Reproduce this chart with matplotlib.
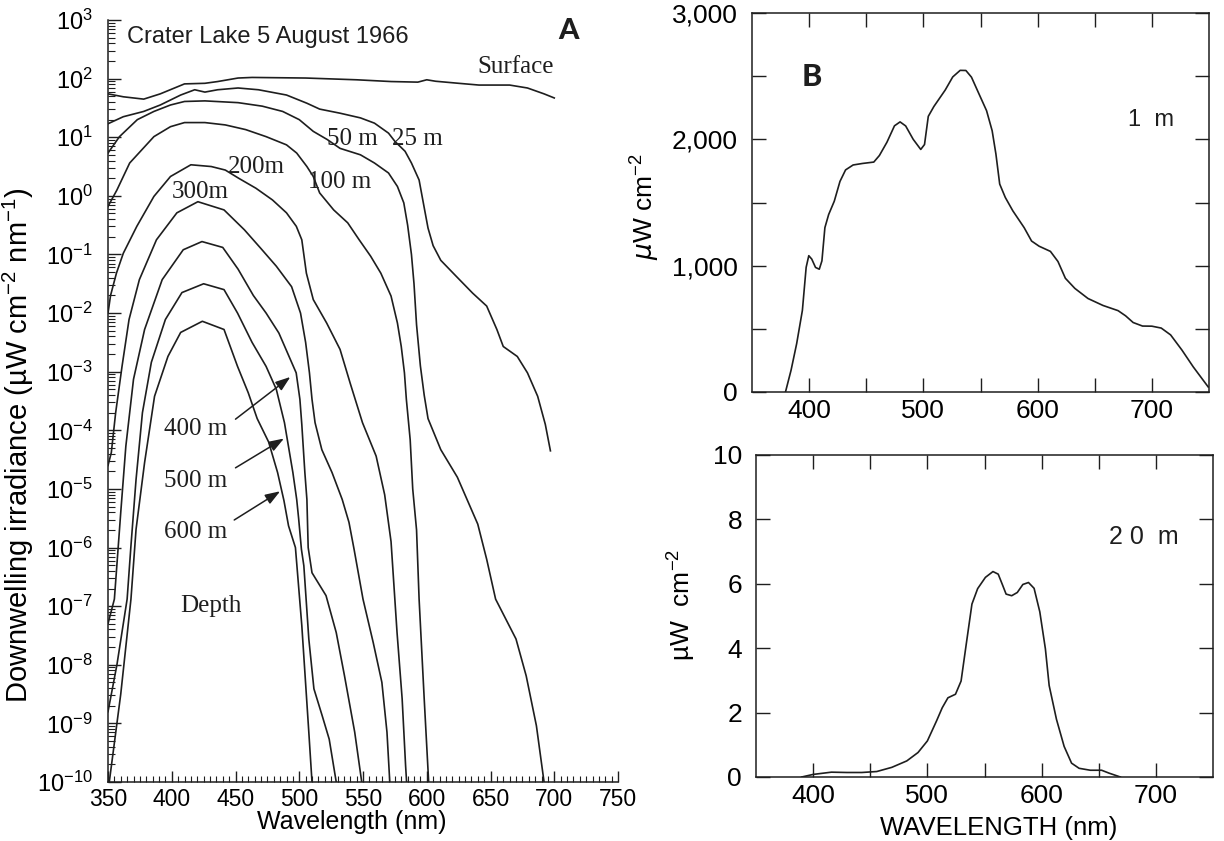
import matplotlib
matplotlib.use("Agg")
import matplotlib.pyplot as plt
import numpy as np
from matplotlib.ticker import FixedLocator, LogLocator, MultipleLocator, NullFormatter

plt.rcParams["font.family"] = ["Liberation Sans", "DejaVu Sans"]
plt.rcParams["mathtext.default"] = "regular"

INK = "#1e1e1e"

# ── Panel A: downwelling irradiance, Crater Lake (log10 µW cm-2 nm-1) ────────
surface_nm = [350, 362, 378, 391, 410, 426, 436, 452, 463, 505, 545, 572, 593,
              600, 607, 625, 641, 665, 679, 692, 700]
surface_log = [1.74, 1.69, 1.65, 1.74, 1.91, 1.92, 1.95, 2.01, 2.02, 2.01, 1.98,
               1.95, 1.94, 1.98, 1.955, 1.92, 1.89, 1.89, 1.84, 1.74, 1.67]

d25_nm = [350, 362, 378, 391, 407, 418, 426, 436, 452, 468, 490, 506, 516, 532,
          548, 559, 570, 575, 583, 588, 594, 598, 601, 605, 611, 623, 636, 647,
          655, 660, 671, 679, 687, 693, 697]
d25_log = [1.23, 1.35, 1.44, 1.55, 1.72, 1.81, 1.77, 1.81, 1.84, 1.81, 1.72, 1.58,
           1.48, 1.41, 1.33, 1.24, 1.07, 0.93, 0.76, 0.56, 0.27, -0.2, -0.55,
           -0.85, -1.1, -1.37, -1.66, -1.88, -2.28, -2.57, -2.74, -3.02, -3.42,
           -3.9, -4.35]

d50_nm = [350, 359, 373, 386, 399, 410, 426, 452, 471, 487, 500, 511, 522, 532,
          548, 559, 570, 577, 582, 585, 588, 590, 592, 595, 598, 601, 611, 624,
          632, 640, 647, 654, 670, 678, 686, 692]
d50_log = [0.73, 1.01, 1.30, 1.44, 1.55, 1.61, 1.62, 1.59, 1.53, 1.44, 1.30, 1.10,
           0.96, 0.81, 0.70, 0.56, 0.39, 0.16, -0.12, -0.5, -1.0, -1.5, -2.2,
           -2.9, -3.4, -3.8, -4.33, -4.8, -5.2, -5.6, -6.2, -6.88, -7.56, -8.19,
           -9.04, -10.0]

d100_nm = [350, 357, 367, 386, 399, 410, 426, 442, 458, 474, 490, 498, 506, 511,
           516, 527, 538, 547, 556, 564, 572, 577, 580, 582.5, 584, 587, 589,
           592, 594, 598, 601.5]
d100_log = [-0.18, 0.10, 0.56, 1.01, 1.18, 1.25, 1.25, 1.21, 1.13, 1.01, 0.87,
            0.73, 0.50, 0.33, 0.05, -0.24, -0.46, -0.75, -1.03, -1.32, -1.71,
            -2.17, -2.57, -3.02, -3.47, -4.16, -5.0, -5.7, -6.88, -8.58, -10.0]

d200_nm = [350, 352, 356.6, 362, 372.6, 386, 399, 415, 431, 442, 452.5, 466, 479,
           490, 497.7, 502, 505.6, 511, 521.5, 532, 540, 549.6, 560.3, 567, 572,
           576.7, 580.7, 583.4, 584.2]
d200_log = [-2.0, -1.7, -1.32, -0.98, -0.52, -0.01, 0.33, 0.53, 0.50, 0.44, 0.30,
            0.13, -0.07, -0.29, -0.52, -0.75, -1.32, -1.77, -2.17, -2.62, -3.2,
            -3.87, -4.44, -5.1, -5.9, -7.45, -8.58, -9.72, -10.0]

d300_nm = [350, 352.6, 356, 361, 366.5, 374.6, 388, 404, 420.5, 441, 457, 470,
           482, 494, 501, 505, 508, 510, 512.4, 517.7, 525.7, 533.7, 539, 543,
           550, 558, 564.8, 568.8, 571]
d300_log = [-4.6, -4.38, -3.7, -2.91, -2.11, -1.43, -0.75, -0.29, -0.1, -0.24,
            -0.58, -0.9, -1.2, -1.55, -2.0, -2.5, -3.02, -3.47, -3.87, -4.33,
            -4.72, -5.18, -5.57, -6.03, -6.88, -7.62, -8.3, -9.15, -10.0]

d400_nm = [350, 355, 360, 364, 370, 378.7, 392.5, 409, 423.7, 440, 452, 464, 474,
           484, 492, 497.6, 500.5, 502, 504.4, 506, 507, 510, 521, 529, 535.5,
           543.5, 549]
d400_log = [-7.3, -6.88, -5.4, -4.27, -3.13, -2.28, -1.43, -0.92, -0.78, -0.88,
            -1.25, -1.7, -2.0, -2.34, -2.74, -3.02, -3.47, -3.9, -4.72, -5.18,
            -6.0, -6.43, -6.82, -7.45, -8.19, -9.15, -10.0]

d500_nm = [350, 357, 365, 368, 372, 377, 384, 395, 408, 425, 441, 451.6, 463, 474,
           482, 488.4, 495, 498, 499.5, 501.7, 503.6, 507.5, 511.5, 518, 523.5,
           529]
d500_log = [-8.8, -8.0, -6.88, -5.97, -4.84, -3.7, -2.84, -2.11, -1.65, -1.5,
            -1.6, -2.0, -2.5, -2.91, -3.3, -3.87, -4.72, -5.18, -5.5, -6.03,
            -6.31, -7.56, -8.41, -8.87, -9.27, -10.0]

d600_nm = [351, 360, 368, 372, 378.7, 386.5, 397, 407, 424, 441, 451.6, 460, 467,
           476, 483, 488, 491.6, 497, 502, 507.5, 510]
d600_log = [-10.0, -8.5, -6.88, -5.69, -4.55, -3.42, -2.74, -2.33, -2.14, -2.28,
            -2.91, -3.36, -3.8, -4.2, -4.72, -5.2, -5.63, -6.0, -7.33, -9.15,
            -10.0]

profiles_a = [
    (surface_nm, surface_log), (d25_nm, d25_log), (d50_nm, d50_log),
    (d100_nm, d100_log), (d200_nm, d200_log), (d300_nm, d300_log),
    (d400_nm, d400_log), (d500_nm, d500_log), (d600_nm, d600_log),
]

# curve labels: (text, wavelength, log10 irradiance)
depth_labels = [
    ("Surface", 670, 2.2), ("50 m", 542, 0.97), ("25 m", 593, 0.97),
    ("200m", 466, 0.5), ("100 m", 532, 0.24), ("300m", 422, 0.07),
    ("400 m", 419, -3.98), ("500 m", 419, -4.87), ("600 m", 419, -5.74),
    ("Depth", 431, -7.0),
]
# arrows from the deep labels to their curves: (tail nm, tail log, tip nm, tip log)
depth_arrows = [
    (450, -3.81, 493, -3.09),
    (450, -4.64, 488, -4.14),
    (449, -5.53, 485, -5.04),
]

# ── Panel B: spectral irradiance at 1 m and 20 m (µW cm-2) ───────────────────
b1_nm = [379.3, 384.2, 389.1, 394.1, 397.4, 399.7, 402.3, 405.6, 408.9, 411.2,
         413.8, 417.1, 422, 427, 431.9, 438.5, 446.7, 456.6, 461.5, 468.1, 474.7,
         479.6, 484.5, 491.1, 497.7, 501, 504.3, 509.2, 519.1, 525.7, 532.2,
         537.2, 542.1, 548.7, 555.3, 560.2, 563.5, 566.8, 571.7, 578.3, 588.2,
         594.7, 601.3, 611.2, 617.8, 624.3, 632.6, 644.1, 657.2, 670.4, 677,
         683.6, 691.8, 700, 708.2, 716.4, 726.3, 736.2, 749.3]
b1_val = [0, 173, 383, 646, 987, 1079, 1052, 986, 972, 1038, 1301, 1405, 1510,
          1667, 1758, 1797, 1809, 1820, 1872, 1977, 2107, 2138, 2106, 2000, 1920,
          1959, 2182, 2260, 2390, 2494, 2546, 2545, 2492, 2359, 2227, 2068, 1883,
          1646, 1540, 1434, 1301, 1195, 1154, 1113, 1033, 900, 820, 740, 685, 644,
          603, 550, 522, 521, 506, 452, 332, 199, 40]

b20_nm = [390, 400, 416, 429.5, 442.6, 455.7, 468.9, 482, 491.8, 500, 508, 513,
          518, 524.6, 529.5, 534, 539, 544, 550.8, 557.4, 562, 565.6, 568.9,
          573.8, 578.7, 583.6, 588.5, 593.4, 598.4, 603.3, 606.6, 613, 619.7,
          626.2, 632.8, 642.6, 652.5, 659, 668.9]
b20_val = [0, 0.08, 0.15, 0.14, 0.14, 0.17, 0.30, 0.50, 0.76, 1.12, 1.74, 2.15,
           2.46, 2.57, 2.98, 4.12, 5.37, 5.85, 6.2, 6.38, 6.3, 5.98, 5.68, 5.63,
           5.73, 5.98, 6.04, 5.86, 5.13, 3.98, 2.84, 1.79, 0.95, 0.43, 0.27, 0.21,
           0.21, 0.12, 0.0]

W, H = 1224, 841
fig = plt.figure(figsize=(W / 100, H / 100), dpi=100)


def box(left, top, right, bottom):
    return [left / W, 1 - bottom / H, (right - left) / W, (bottom - top) / H]


# ── A ────────────────────────────────────────────────────────────────────────
ax = fig.add_axes(box(108, 20, 618, 782))
for nm, lg in profiles_a:
    ax.plot(nm, np.power(10.0, lg), color=INK, lw=1.2, solid_joinstyle="round")
ax.set_yscale("log")
ax.set_xlim(350, 750)
ax.set_ylim(1e-10, 1e3)
for side in ("top", "right"):
    ax.spines[side].set_visible(False)
for side in ("left", "bottom"):
    ax.spines[side].set_color(INK)
    ax.spines[side].set_linewidth(1.1)

decades = list(range(-10, 4))
ax.yaxis.set_major_locator(FixedLocator([10.0 ** d for d in decades]))
ax.set_yticklabels([f"10$^{{{d}}}$" for d in decades])
ax.yaxis.set_minor_locator(LogLocator(base=10, subs=np.arange(2, 10), numticks=30))
ax.yaxis.set_minor_formatter(NullFormatter())
ax.xaxis.set_major_locator(MultipleLocator(50))
ax.xaxis.set_minor_locator(MultipleLocator(5))
ax.tick_params(axis="both", which="both", direction="in", color=INK)
ax.tick_params(axis="y", which="major", length=9, width=1.0, pad=11, labelsize=17)
ax.tick_params(axis="y", which="minor", length=5, width=0.8)
ax.tick_params(axis="x", which="major", length=8, width=1.0, pad=4, labelsize=16.5)
ax.tick_params(axis="x", which="minor", length=4, width=0.8)
ax.set_xlabel("Wavelength (nm)", fontsize=18)
ax.xaxis.set_label_coords(0.478, -0.037)
ax.set_ylabel("Downwelling irradiance (µW cm$^{-2}$ nm$^{-1}$)", fontsize=21)
ax.yaxis.set_label_coords(-0.141, 0.442)

for txt, x, lg in depth_labels:
    ax.text(x, 10.0 ** lg, txt, family="Liberation Serif", fontsize=18,
            ha="center", va="center", color=INK)
for x0, y0, x1, y1 in depth_arrows:
    ax.annotate("", xy=(x1, 10.0 ** y1), xytext=(x0, 10.0 ** y0),
                arrowprops=dict(arrowstyle="-|>,head_length=0.9,head_width=0.32",
                                color=INK, lw=1.1, shrinkA=0, shrinkB=0))
ax.text(0.037, 0.978, "Crater Lake 5 August 1966", transform=ax.transAxes,
        fontsize=17, ha="left", va="center", color=INK)
ax.text(0.902, 0.985, "A", transform=ax.transAxes, family="Lato",
        fontweight="black", fontsize=21, ha="center", va="center", color=INK)

# ── B, upper: 1 m ─────────────────────────────────────────────────────────────
bt = fig.add_axes(box(752, 13, 1209, 392))
bt.plot(b1_nm, b1_val, color=INK, lw=1.2)
bt.set_xlim(350, 750)
bt.set_ylim(0, 3000)
bt.xaxis.set_major_locator(FixedLocator([400, 500, 600, 700]))
bt.xaxis.set_minor_locator(FixedLocator([450, 550, 650]))
bt.yaxis.set_major_locator(FixedLocator([0, 1000, 2000, 3000]))
bt.yaxis.set_minor_locator(FixedLocator([500, 1500, 2500]))
bt.set_yticklabels(["0", "1,000", "2,000", "3,000"])
bt.set_ylabel(r"$\mathit{\mu}$W cm$^{-2}$", fontsize=19)
bt.yaxis.set_label_coords(-0.197, 0.49)
bt.text(0.13, 0.83, "B", transform=bt.transAxes, family="Lato",
        fontweight="black", fontsize=22, ha="center", va="center", color=INK)
bt.text(0.873, 0.718, "1  m", transform=bt.transAxes, fontsize=17,
        ha="center", va="center", color=INK)

# ── B, lower: 20 m ────────────────────────────────────────────────────────────
bb = fig.add_axes(box(756, 455, 1213, 777))
bb.plot(b20_nm, b20_val, color=INK, lw=1.2)
bb.set_xlim(350, 750)
bb.set_ylim(0, 10)
bb.xaxis.set_major_locator(FixedLocator([400, 500, 600, 700]))
bb.xaxis.set_minor_locator(FixedLocator([450, 550, 650]))
bb.yaxis.set_major_locator(FixedLocator([0, 2, 4, 6, 8, 10]))
bb.set_ylabel("µW  cm$^{-2}$", fontsize=19)
bb.yaxis.set_label_coords(-0.127, 0.534)
bb.set_xlabel("WAVELENGTH (nm)", fontsize=18.5)
bb.xaxis.set_label_coords(0.53, -0.12)
bb.text(0.849, 0.745, "2 0  m", transform=bb.transAxes, fontsize=18,
        ha="center", va="center", color=INK)

for b in (bt, bb):
    for s in b.spines.values():
        s.set_color(INK)
        s.set_linewidth(1.1)
    b.tick_params(axis="both", which="both", direction="in", length=10,
                  width=1.0, top=True, right=True, color=INK, labelsize=19)
    b.tick_params(axis="y", which="both", pad=10)
    b.tick_params(axis="x", which="both", pad=5)

fig.savefig("out.png", dpi=100, facecolor="white")
